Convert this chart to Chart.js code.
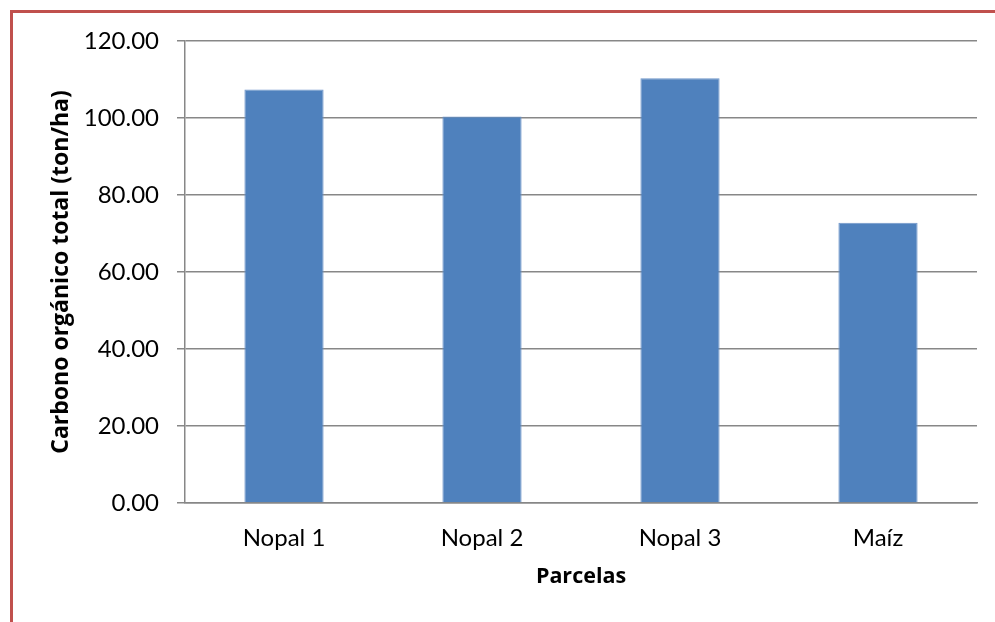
<!DOCTYPE html>
<html lang="es">
<head>
<meta charset="utf-8">
<title>Carbono orgánico total por parcela</title>
<script src="https://cdn.jsdelivr.net/npm/chart.js@4.4.1/dist/chart.umd.min.js"></script>
<style>
  html, body { margin: 0; padding: 0; background: #fff; }
  #wrap { position: relative; width: 995px; height: 622px; overflow: hidden; }
  #chart { position: absolute; left: 0; top: 0; }
  /* red frame around the chart (only top and left edges show) */
  #frame {
    position: absolute; left: 10px; top: 10px; width: 1100px; height: 800px;
    border-top: 3px solid #c0504d; border-left: 3px solid #c0504d;
    pointer-events: none;
  }
</style>
</head>
<body>
<div id="wrap">
  <canvas id="chart" width="995" height="622"></canvas>
  <div id="frame"></div>
</div>
<script>
// Parcels and total organic carbon (ton/ha)
const parcelas = ["Nopal 1", "Nopal 2", "Nopal 3", "Maíz"];
const carbono = [107.4, 100.4, 110.3, 72.8];

// y axis range
const yMin = 0;
const yMax = 120;
const yStep = 20;

const tickFont = "Lato, 'Open Sans', sans-serif";
const titleFont = "'Open Sans', Lato, sans-serif";
const gridGray = "#878787";

const ctx = document.getElementById("chart").getContext("2d");
const chart = new Chart(ctx, {
  type: "bar",
  data: {
    labels: parcelas,
    datasets: [
      {
        data: carbono,
        backgroundColor: "#4f81bd",
        borderColor: "#6f95c9",
        borderWidth: 1,
        barPercentage: 0.4,
        categoryPercentage: 1,
      },
    ],
  },
  options: {
    responsive: false,
    animation: false,
    layout: {
      padding: { left: 0, right: 18, top: 41, bottom: 0 },
    },
    plugins: {
      legend: { display: false },
      tooltip: { enabled: false },
    },
    scales: {
      x: {
        grid: { display: false, drawTicks: false },
        border: { display: true, color: gridGray, width: 1.5 },
        ticks: {
          color: "#000",
          padding: 21,
          font: { family: tickFont, size: 24 },
        },
        title: {
          display: true,
          text: "Parcelas",
          color: "#000",
          padding: { top: 0, bottom: 32 },
          font: { family: titleFont, size: 21.5, weight: "bold" },
        },
        afterFit: (scale) => {
          scale.height = 119;
        },
      },
      y: {
        min: yMin,
        max: yMax,
        grid: { color: gridGray, lineWidth: 1.5, tickLength: 8 },
        border: { display: true, color: gridGray, width: 1.5 },
        ticks: {
          stepSize: yStep,
          color: "#000",
          padding: 18,
          font: { family: tickFont, size: 24 },
          callback: (value) => value.toFixed(2),
        },
        title: {
          display: true,
          text: "Carbono orgánico total (ton/ha)",
          color: "#000",
          padding: { top: 48, bottom: 0 },
          font: { family: titleFont, size: 23, weight: "bold" },
        },
        afterFit: (scale) => {
          scale.width = 185;
        },
      },
    },
  },
});
</script>
</body>
</html>
